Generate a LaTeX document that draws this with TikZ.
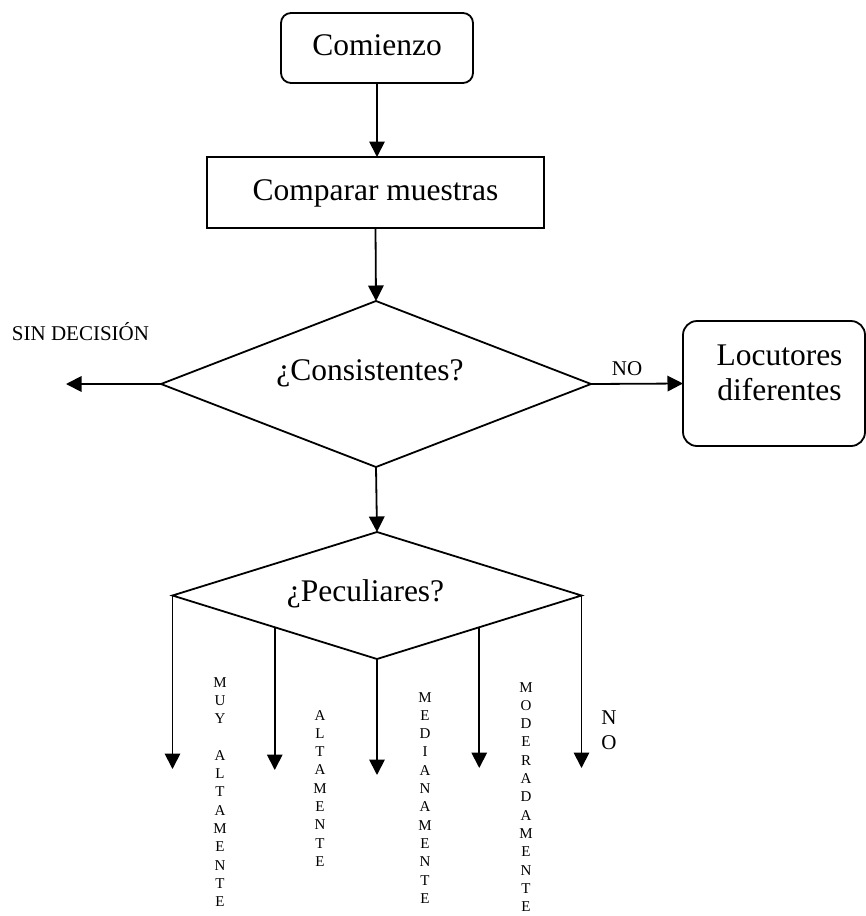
\documentclass[tikz,border=0pt]{standalone}
\usepackage{fontspec}
\setmainfont{Liberation Serif}
\usetikzlibrary{shapes.geometric,arrows.meta,calc}
\tikzset{
  every node/.style={outer sep=0pt},
  ln/.style={line width=1.8pt},
  arr/.style={ln,-{Triangle[length=15.5pt,width=15.5pt]}},
  big/.style={font=\fontsize{31.5}{35}\selectfont},
  small/.style={font=\fontsize{21}{25}\selectfont},
  tiny/.style={font=\fontsize{15}{18.3}\selectfont},
  startbox/.style={draw,ln,rounded corners=10pt,big,minimum width=192pt,minimum height=70pt,inner sep=0pt,text height=22pt,text depth=8pt},
  procbox/.style={draw,ln,big,minimum width=337pt,minimum height=71pt,inner sep=0pt,text height=22pt,text depth=7pt},
  decision/.style={draw,ln,diamond,big,inner sep=0pt},
  endbox/.style={draw,ln,rounded corners=14pt,big,minimum width=182pt,minimum height=125pt,inner sep=0pt,text height=45pt,text depth=12pt},
  lbl/.style={anchor=base,inner sep=0pt},
}
\begin{document}
\begin{tikzpicture}[x=1pt,y=-1pt]
\useasboundingbox (0,0) rectangle (866,916);
% main nodes
\node[startbox] (start) at (377,48) {Comienzo};
\node[procbox] (comp) at (375.5,192.5) {Comparar muestras};
\node[decision,aspect=2.59,minimum width=430pt,minimum height=166pt,text height=10pt,text depth=18pt] (cons) at (376,384) {¿Consistentes?\kern12pt};
\node[endbox] (loc) at (774,383.5) {\hspace*{11pt}\begin{tabular}[b]{@{}c@{}}Locutores\\diferentes\end{tabular}};
\node[decision,aspect=3.22,minimum width=409pt,minimum height=127pt,text height=20pt,text depth=9pt] (pec) at (377,595.5) {¿Peculiares?\kern23pt};
% labels
\node[lbl,small] (sdl) at (80.5,340) {SIN DECISIÓN};
\node[lbl,small] (nol) at (627,375) {NO};
% connectors
\coordinate (sd) at (66,384);
\draw[arr] (start.south) -- (start.south |- comp.north);
\draw[arr] (comp.south) -- (cons.north);
\draw[arr] (cons.west) -- (sd);
\draw[arr] (cons.east) -- (loc.west);
\draw[arr] (cons.south) -- (pec.north);
% branches
\coordinate (b1) at (173,769);
\coordinate (b2) at (276,770);
\coordinate (b3) at (378,775);
\coordinate (b4) at (481,768);
\coordinate (b5) at (581,768);
\coordinate (m1) at ($(pec.west)!0.5!(pec.south)$);
\coordinate (m2) at ($(pec.east)!0.5!(pec.south)$);
\draw[arr] (pec.west) -- (pec.west |- b1);
\draw[arr] (m1) -- (m1 |- b2);
\draw[arr] (pec.south) -- (pec.south |- b3);
\draw[arr] (m2) -- (m2 |- b4);
\draw[arr] (pec.east) -- (pec.east |- b5);
% vertical labels
\node[lbl,tiny] (v1) at (220,687) {\begin{tabular}[t]{@{}c@{}}M\\U\\Y\\ \\A\\L\\T\\A\\M\\E\\N\\T\\E\end{tabular}};
\node[lbl,tiny] (v2) at (320,720) {\begin{tabular}[t]{@{}c@{}}A\\L\\T\\A\\M\\E\\N\\T\\E\end{tabular}};
\node[lbl,tiny] (v3) at (425,702) {\begin{tabular}[t]{@{}c@{}}M\\E\\D\\I\\A\\N\\A\\M\\E\\N\\T\\E\end{tabular}};
\node[lbl,tiny] (v4) at (526,692) {\begin{tabular}[t]{@{}c@{}}M\\O\\D\\E\\R\\A\\D\\A\\M\\E\\N\\T\\E\end{tabular}};
\node[lbl,small] (v5) at (609,724) {\begin{tabular}[t]{@{}c@{}}N\\O\end{tabular}};
\end{tikzpicture}
\end{document}
